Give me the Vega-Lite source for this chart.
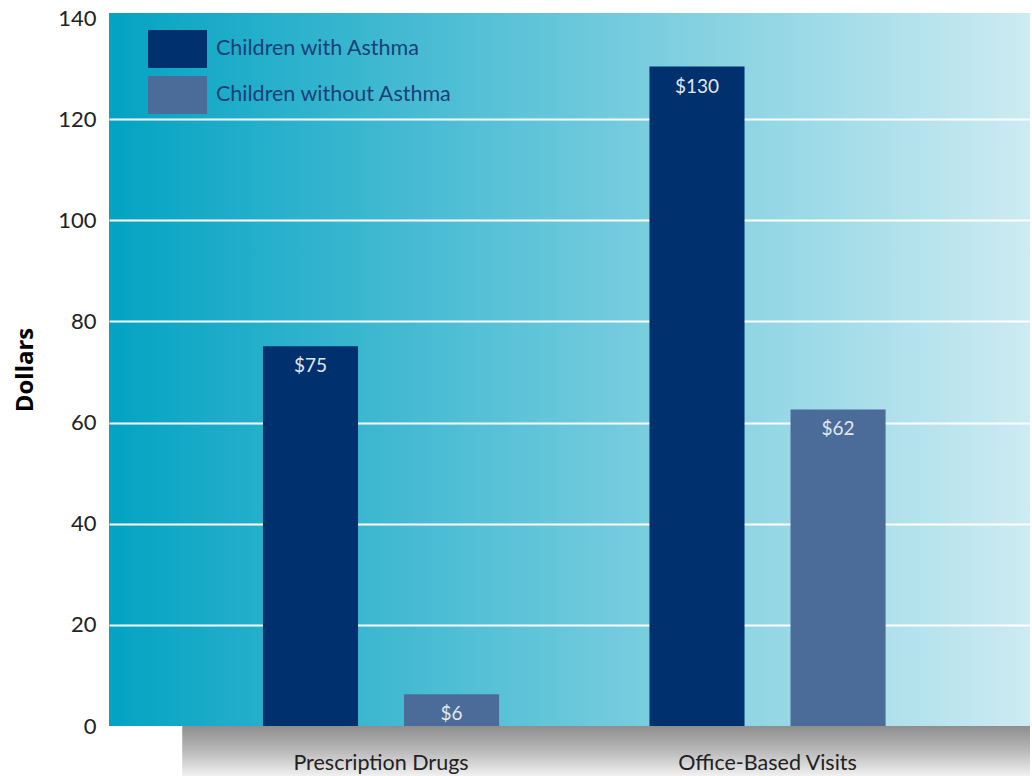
{
  "$schema": "https://vega.github.io/schema/vega-lite/v6.json",
  "width": 921,
  "height": 713,
  "autosize": {"type": "none"},
  "padding": {"left": 109, "top": 13, "right": 2, "bottom": 50},
  "background": "white",
  "config": {
    "font": "Lato",
    "view": {
      "stroke": null,
      "fill": {
        "gradient": "linear", "x1": 0, "y1": 0, "x2": 1, "y2": 0,
        "stops": [
          {"offset": 0, "color": "#03a3c3"},
          {"offset": 1, "color": "#cdebf2"}
        ]
      }
    }
  },
  "data": {
    "values": [
      {"category": "Prescription Drugs", "group": "Children with Asthma", "value": 75.1, "label": "$75"},
      {"category": "Prescription Drugs", "group": "Children without Asthma", "value": 6.3, "label": "$6"},
      {"category": "Office-Based Visits", "group": "Children with Asthma", "value": 130.4, "label": "$130"},
      {"category": "Office-Based Visits", "group": "Children without Asthma", "value": 62.6, "label": "$62"}
    ]
  },
  "resolve": {"scale": {"x": "independent"}, "axis": {"x": "independent"}},
  "layer": [
    {
      "mark": {
        "type": "rect",
        "color": {
          "gradient": "linear", "x1": 0, "y1": 0, "x2": 0, "y2": 1,
          "stops": [
            {"offset": 0, "color": "#8e8e8e"},
            {"offset": 0.5, "color": "#bababa"},
            {"offset": 1, "color": "#f2f2f2"}
          ]
        }
      },
      "encoding": {
        "x": {"datum": 0.08, "type": "quantitative", "scale": {"domain": [0, 1], "nice": false}, "axis": null},
        "x2": {"datum": 1},
        "y": {"datum": 0, "type": "quantitative", "scale": {"domain": [0, 141], "nice": false}},
        "y2": {"datum": -10}
      }
    },
    {
      "encoding": {
        "x": {
          "field": "category", "type": "nominal",
          "sort": ["Prescription Drugs", "Office-Based Visits"],
          "scale": {"paddingInner": 0.389, "paddingOuter": 0.386, "align": 0.516},
          "axis": {
            "title": null, "domain": false, "ticks": false, "labelAngle": 0, "zindex": 2,
            "labelFontSize": 21.5, "labelColor": "#222222", "labelPadding": 26, "labelFont": "Lato"
          }
        },
        "xOffset": {
          "field": "group", "type": "nominal",
          "sort": ["Children with Asthma", "Children without Asthma"],
          "scale": {"paddingInner": 0.326, "paddingOuter": 0}
        },
        "y": {
          "field": "value", "type": "quantitative",
          "scale": {"domain": [0, 141], "nice": false, "zero": true},
          "axis": {
            "title": "Dollars", "titleFontSize": 24, "titleFontWeight": "bold", "titleColor": "#000000",
            "titleFont": "Open Sans", "titlePadding": 20,
            "values": [0, 20, 40, 60, 80, 100, 120, 140],
            "domain": false, "ticks": false,
            "labelFontSize": 22, "labelColor": "#222222", "labelPadding": 13,
            "grid": true, "gridColor": "#ffffff", "gridWidth": 2,
            "gridOpacity": {"condition": {"test": "datum.value === 0 || datum.value === 140", "value": 0}, "value": 1}
          }
        }
      },
      "layer": [
        {
          "mark": {"type": "bar"},
          "encoding": {
            "color": {
              "field": "group", "type": "nominal",
              "sort": ["Children with Asthma", "Children without Asthma"],
              "scale": {"domain": ["Children with Asthma", "Children without Asthma"], "range": ["#00306d", "#4b6c98"]},
              "legend": {
                "title": null, "orient": "none", "legendX": 45.5, "legendY": 13,
                "symbolType": "M-1.283,-0.826L1.283,-0.826L1.283,0.826L-1.283,0.826Z",
                "symbolSize": 2116, "symbolStrokeWidth": 0, "symbolOpacity": 1,
                "rowPadding": 4, "labelOffset": 15.5, "padding": 0, "labelLimit": 0,
                "labelFontSize": 21.5, "labelColor": "#1b3f77", "labelFont": "Lato"
              }
            }
          }
        },
        {
          "mark": {"type": "text", "baseline": "middle", "dy": 20, "fontSize": 19, "color": "#e2e8f0"},
          "encoding": {"text": {"field": "label"}}
        }
      ]
    }
  ]
}
